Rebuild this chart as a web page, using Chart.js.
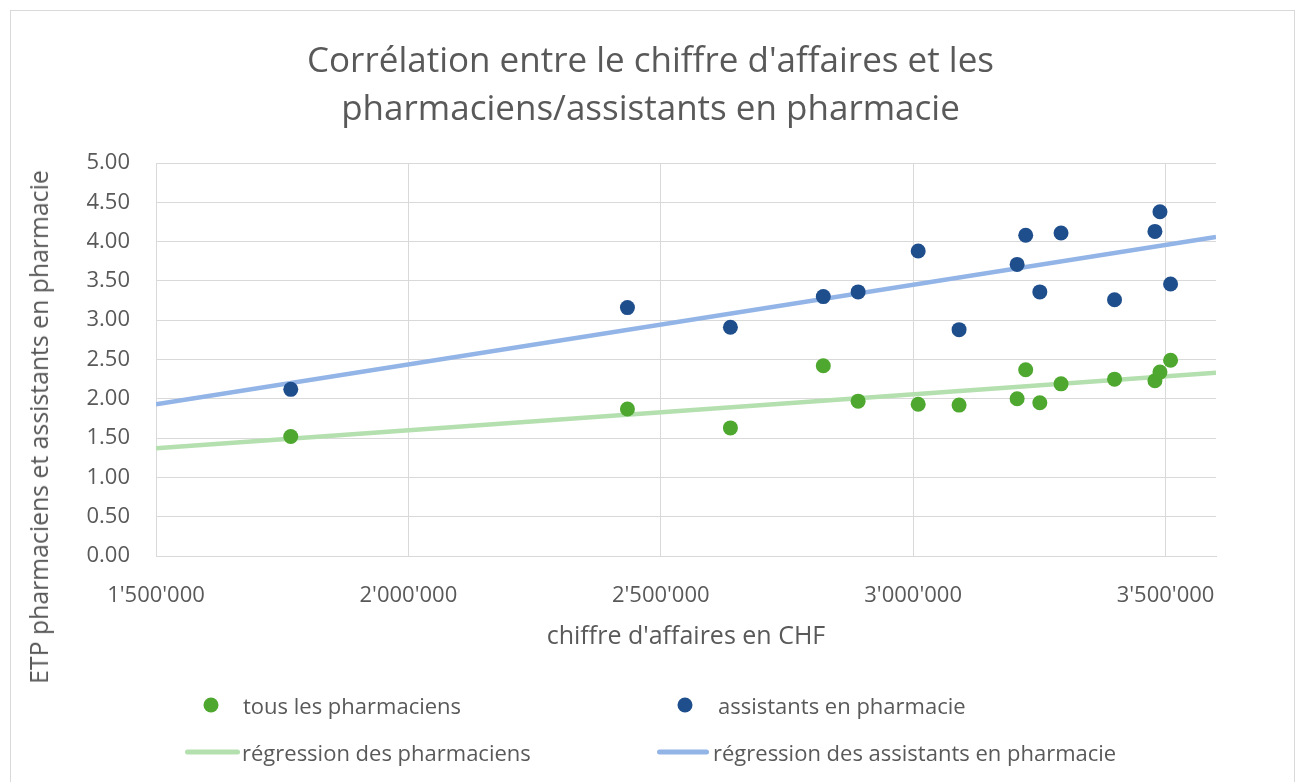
<!DOCTYPE html>
<html>
<head>
<meta charset="utf-8">
<script src="https://cdn.jsdelivr.net/npm/chart.js@4.4.1/dist/chart.umd.min.js"></script>
<style>
  html, body { margin: 0; padding: 0; background: #fff; overflow: hidden; }
  #wrap { position: relative; width: 1301px; height: 782px; font-family: "Open Sans", sans-serif; color: #595959; }
  #frame { position: absolute; left: 10px; top: 10px; width: 1285px; height: 800px; border: 1px solid #d9d9d9; box-sizing: border-box; }
  canvas { position: absolute; left: 0; top: 0; }
  #title { position: absolute; left: 0; width: 1301px; top: 35px; text-align: center; font-size: 35px; line-height: 48px; }
  #ytitle { position: absolute; left: 38px; top: 427px; transform: translate(-50%, -50%) rotate(-90deg); white-space: nowrap; font-size: 24.8px; }
  #xtitle { position: absolute; left: 686px; top: 634px; transform: translate(-50%, -50%); white-space: nowrap; font-size: 25px; }
  .lg { position: absolute; font-size: 22px; white-space: nowrap; transform: translateY(-50%); }
  .dot { position: absolute; width: 15px; height: 15px; border-radius: 50%; transform: translate(-50%, -50%); }
  .ln { position: absolute; height: 5px; border-radius: 3px; transform: translateY(-50%); }
</style>
</head>
<body>
<div id="wrap">
  <div id="frame"></div>
  <canvas id="c" width="1301" height="782"></canvas>
  <div id="title">Corrélation entre le chiffre d'affaires et les<br>pharmaciens/assistants en pharmacie</div>
  <div id="ytitle">ETP pharmaciens et assistants en pharmacie</div>
  <div id="xtitle">chiffre d'affaires en CHF</div>
  <div id="legend"></div>
</div>
<script>
// ---- data ----
const revenue = [1767000, 2434000, 2638000, 2822000, 2891000, 3010000, 3091000, 3206000, 3223000, 3251000, 3293000, 3399000, 3479000, 3489000, 3510000];
const pharmacists = [1.52, 1.87, 1.63, 2.42, 1.97, 1.93, 1.92, 2.00, 2.37, 1.95, 2.19, 2.25, 2.23, 2.34, 2.49];
const assistants = [2.12, 3.16, 2.91, 3.30, 3.36, 3.88, 2.88, 3.71, 4.08, 3.36, 4.11, 3.26, 4.13, 4.38, 3.46];
const regressionX = [1500000, 3600000];
const regressionPharmacists = [1.37, 2.33];
const regressionAssistants = [1.93, 4.06];
const seriesNames = ["tous les pharmaciens", "assistants en pharmacie", "régression des pharmaciens", "régression des assistants en pharmacie"];
const xTickValues = [1500000, 2000000, 2500000, 3000000, 3500000];
const yTickValues = [0, 0.5, 1, 1.5, 2, 2.5, 3, 3.5, 4, 4.5, 5];

const colors = { pharm: "#4ea72e", assist: "#1f4e8c", regPharm: "#b4dfae", regAssist: "#92b4e6" };

const zip = (xs, ys) => xs.map((x, i) => ({ x: x, y: ys[i] }));
const fmtX = v => String(Math.round(v)).replace(/\B(?=(\d{3})+(?!\d))/g, "'");

const font = { family: "'Open Sans', sans-serif", size: 22 };

new Chart(document.getElementById("c"), {
  type: "scatter",
  data: {
    datasets: [
      { label: seriesNames[0], data: zip(revenue, pharmacists), backgroundColor: colors.pharm, borderColor: colors.pharm, pointRadius: 7.5, pointHoverRadius: 7.5, borderWidth: 0, order: 1 },
      { label: seriesNames[1], data: zip(revenue, assistants), backgroundColor: colors.assist, borderColor: colors.assist, pointRadius: 7.5, pointHoverRadius: 7.5, borderWidth: 0, order: 1 },
      { type: "line", label: seriesNames[2], data: zip(regressionX, regressionPharmacists), borderColor: colors.regPharm, borderWidth: 4.5, pointRadius: 0, fill: false, order: 2 },
      { type: "line", label: seriesNames[3], data: zip(regressionX, regressionAssistants), borderColor: colors.regAssist, borderWidth: 4.5, pointRadius: 0, fill: false, order: 2 }
    ]
  },
  options: {
    responsive: false,
    animation: false,
    events: [],
    layout: { padding: { top: 163, right: 85, bottom: 166, left: 0 } },
    plugins: { legend: { display: false }, title: { display: false }, tooltip: { enabled: false } },
    scales: {
      x: {
        type: "linear",
        min: 1500000, max: 3600000,
        afterBuildTicks: s => { s.ticks = xTickValues.map(v => ({ value: v })); },
        afterFit: s => { s.height = 60; },
        grid: { color: "#d9d9d9", drawTicks: false, lineWidth: 1 },
        border: { color: "#d9d9d9", width: 1 },
        ticks: { color: "#595959", font: font, padding: 27, maxRotation: 0, callback: v => fmtX(v) }
      },
      y: {
        min: 0, max: 5,
        afterBuildTicks: s => { s.ticks = yTickValues.map(v => ({ value: v })); },
        afterFit: s => { s.width = 156; },
        grid: { color: "#d9d9d9", drawTicks: false, lineWidth: 1 },
        border: { display: false },
        ticks: { color: "#595959", font: font, padding: 26, callback: v => Number(v).toFixed(2) }
      }
    }
  }
});

// ---- HTML legend ----
const lg = document.getElementById("legend");
const items = [
  { kind: "dot", color: colors.pharm, mx: 211, tx: 243, y: 705, text: seriesNames[0] },
  { kind: "dot", color: colors.assist, mx: 685, tx: 718, y: 705, text: seriesNames[1] },
  { kind: "ln", color: colors.regPharm, mx: 185, mw: 55, tx: 242, y: 752, text: seriesNames[2] },
  { kind: "ln", color: colors.regAssist, mx: 657, mw: 52, tx: 713, y: 752, text: seriesNames[3] }
];
items.forEach(it => {
  const m = document.createElement("div");
  m.className = it.kind;
  m.style.background = it.color;
  m.style.left = it.mx + "px";
  m.style.top = it.y + "px";
  if (it.kind === "ln") m.style.width = it.mw + "px";
  lg.appendChild(m);
  const t = document.createElement("div");
  t.className = "lg";
  t.style.left = it.tx + "px";
  t.style.top = it.y + "px";
  t.textContent = it.text;
  lg.appendChild(t);
});
</script>
</body>
</html>
